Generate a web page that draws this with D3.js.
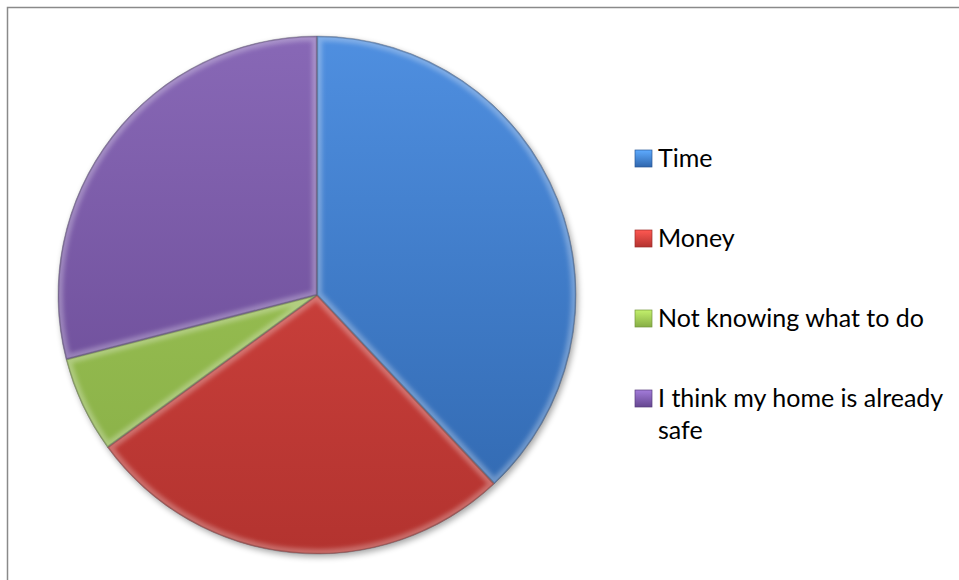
<!DOCTYPE html>
<html>
<head>
<meta charset="utf-8">
<script src="https://cdn.jsdelivr.net/npm/d3@7"></script>
<style>
  html, body { margin: 0; padding: 0; background: #fff; }
  svg { display: block; }
</style>
</head>
<body>
<svg id="chart" width="959" height="580"></svg>
<script>
const categories = ["Time", "Money", "Not knowing what to do", "I think my home is already safe"];
const values = [38, 27, 6, 29];
const colorsTop = ["#4f8fe0", "#dc4a45", "#a3c95a", "#8868b6"];
const colorsBottom = ["#2f66ad", "#b3332f", "#86ad45", "#654690"];
const legendLines = [["Time"], ["Money"], ["Not knowing what to do"], ["I think my home is already", "safe"]];

const svg = d3.select("#chart");
const cx = 317, cy = 295, R = 259;

const defs = svg.append("defs");

// frame
svg.append("rect").attr("x", 7.5).attr("y", 7.5).attr("width", 970).attr("height", 590)
  .attr("fill", "#fff").attr("stroke", "#8a8a8a").attr("stroke-width", 1.5);

// shadow filter
const sh = defs.append("filter").attr("id", "shadow").attr("x", "-10%").attr("y", "-10%").attr("width", "130%").attr("height", "130%");
sh.append("feGaussianBlur").attr("in", "SourceAlpha").attr("stdDeviation", 3);
sh.append("feOffset").attr("dx", 2).attr("dy", 3).attr("result", "ob");
sh.append("feComponentTransfer").append("feFuncA").attr("type", "linear").attr("slope", 0.35);

const blur = defs.append("filter").attr("id", "blur").attr("x", "-20%").attr("y", "-20%").attr("width", "140%").attr("height", "140%");
blur.append("feGaussianBlur").attr("stdDeviation", 2.2);

categories.forEach((c, i) => {
  const g = defs.append("linearGradient").attr("id", "grad" + i)
    .attr("gradientUnits", "userSpaceOnUse")
    .attr("x1", 0).attr("y1", -R).attr("x2", 0).attr("y2", R);
  g.append("stop").attr("offset", "0%").attr("stop-color", colorsTop[i]);
  g.append("stop").attr("offset", "100%").attr("stop-color", colorsBottom[i]);
  const lg = defs.append("linearGradient").attr("id", "lgrad" + i)
    .attr("x1", 0).attr("y1", 0).attr("x2", 0).attr("y2", 1);
  lg.append("stop").attr("offset", "0%").attr("stop-color", d3.color(colorsTop[i]).brighter(0.5));
  lg.append("stop").attr("offset", "100%").attr("stop-color", colorsBottom[i]);
});

const pie = d3.pie().sort(null).value(d => d);
const arcs = pie(values);
const arc = d3.arc().innerRadius(0).outerRadius(R);

const gPie = svg.append("g").attr("transform", `translate(${cx},${cy})`);

// shadow
gPie.append("circle").attr("r", R).attr("fill", "#000").attr("filter", "url(#shadow)");

arcs.forEach((a, i) => {
  defs.append("clipPath").attr("id", "clip" + i).append("path").attr("d", arc(a))
    .attr("transform", `translate(${cx},${cy})`);
});

const slices = gPie.selectAll("g.slice").data(arcs).enter().append("g").attr("class", "slice");
slices.append("path").attr("d", arc).attr("fill", (d, i) => `url(#grad${i})`);

// bevel highlight rim inside each slice
const bevel = svg.append("g");
arcs.forEach((a, i) => {
  const gb = bevel.append("g").attr("clip-path", `url(#clip${i})`);
  gb.append("path").attr("d", arc(a)).attr("transform", `translate(${cx},${cy})`)
    .attr("fill", "none").attr("stroke", "#ffffff").attr("stroke-opacity", 0.28)
    .attr("stroke-width", 10).attr("filter", "url(#blur)");
  gb.append("path").attr("d", arc(a)).attr("transform", `translate(${cx},${cy})`)
    .attr("fill", "none").attr("stroke", "#000").attr("stroke-opacity", 0.18)
    .attr("stroke-width", 2.5);
});
gPie.selectAll("path.edge").data(arcs).enter().append("path").attr("class", "edge")
  .attr("d", arc).attr("fill", "none").attr("stroke", "rgba(40,40,60,0.35)").attr("stroke-width", 0.8);

// legend
const y = d3.scalePoint().domain(categories).range([158, 398]);
const legend = svg.append("g").attr("font-family", "Lato, 'Open Sans', sans-serif").attr("font-size", 25).attr("fill", "#000");
categories.forEach((c, i) => {
  const yy = y(c);
  legend.append("rect").attr("x", 635).attr("y", yy - 8).attr("width", 17).attr("height", 17)
    .attr("fill", `url(#lgrad${i})`).attr("stroke", d3.color(colorsBottom[i]).darker(0.4)).attr("stroke-width", 0.7);
  const t = legend.append("text").attr("x", 658).attr("y", yy + 9);
  legendLines[i].forEach((ln, k) => {
    t.append("tspan").attr("x", 658).attr("dy", k === 0 ? 0 : 32).text(ln);
  });
});
</script>
</body>
</html>
